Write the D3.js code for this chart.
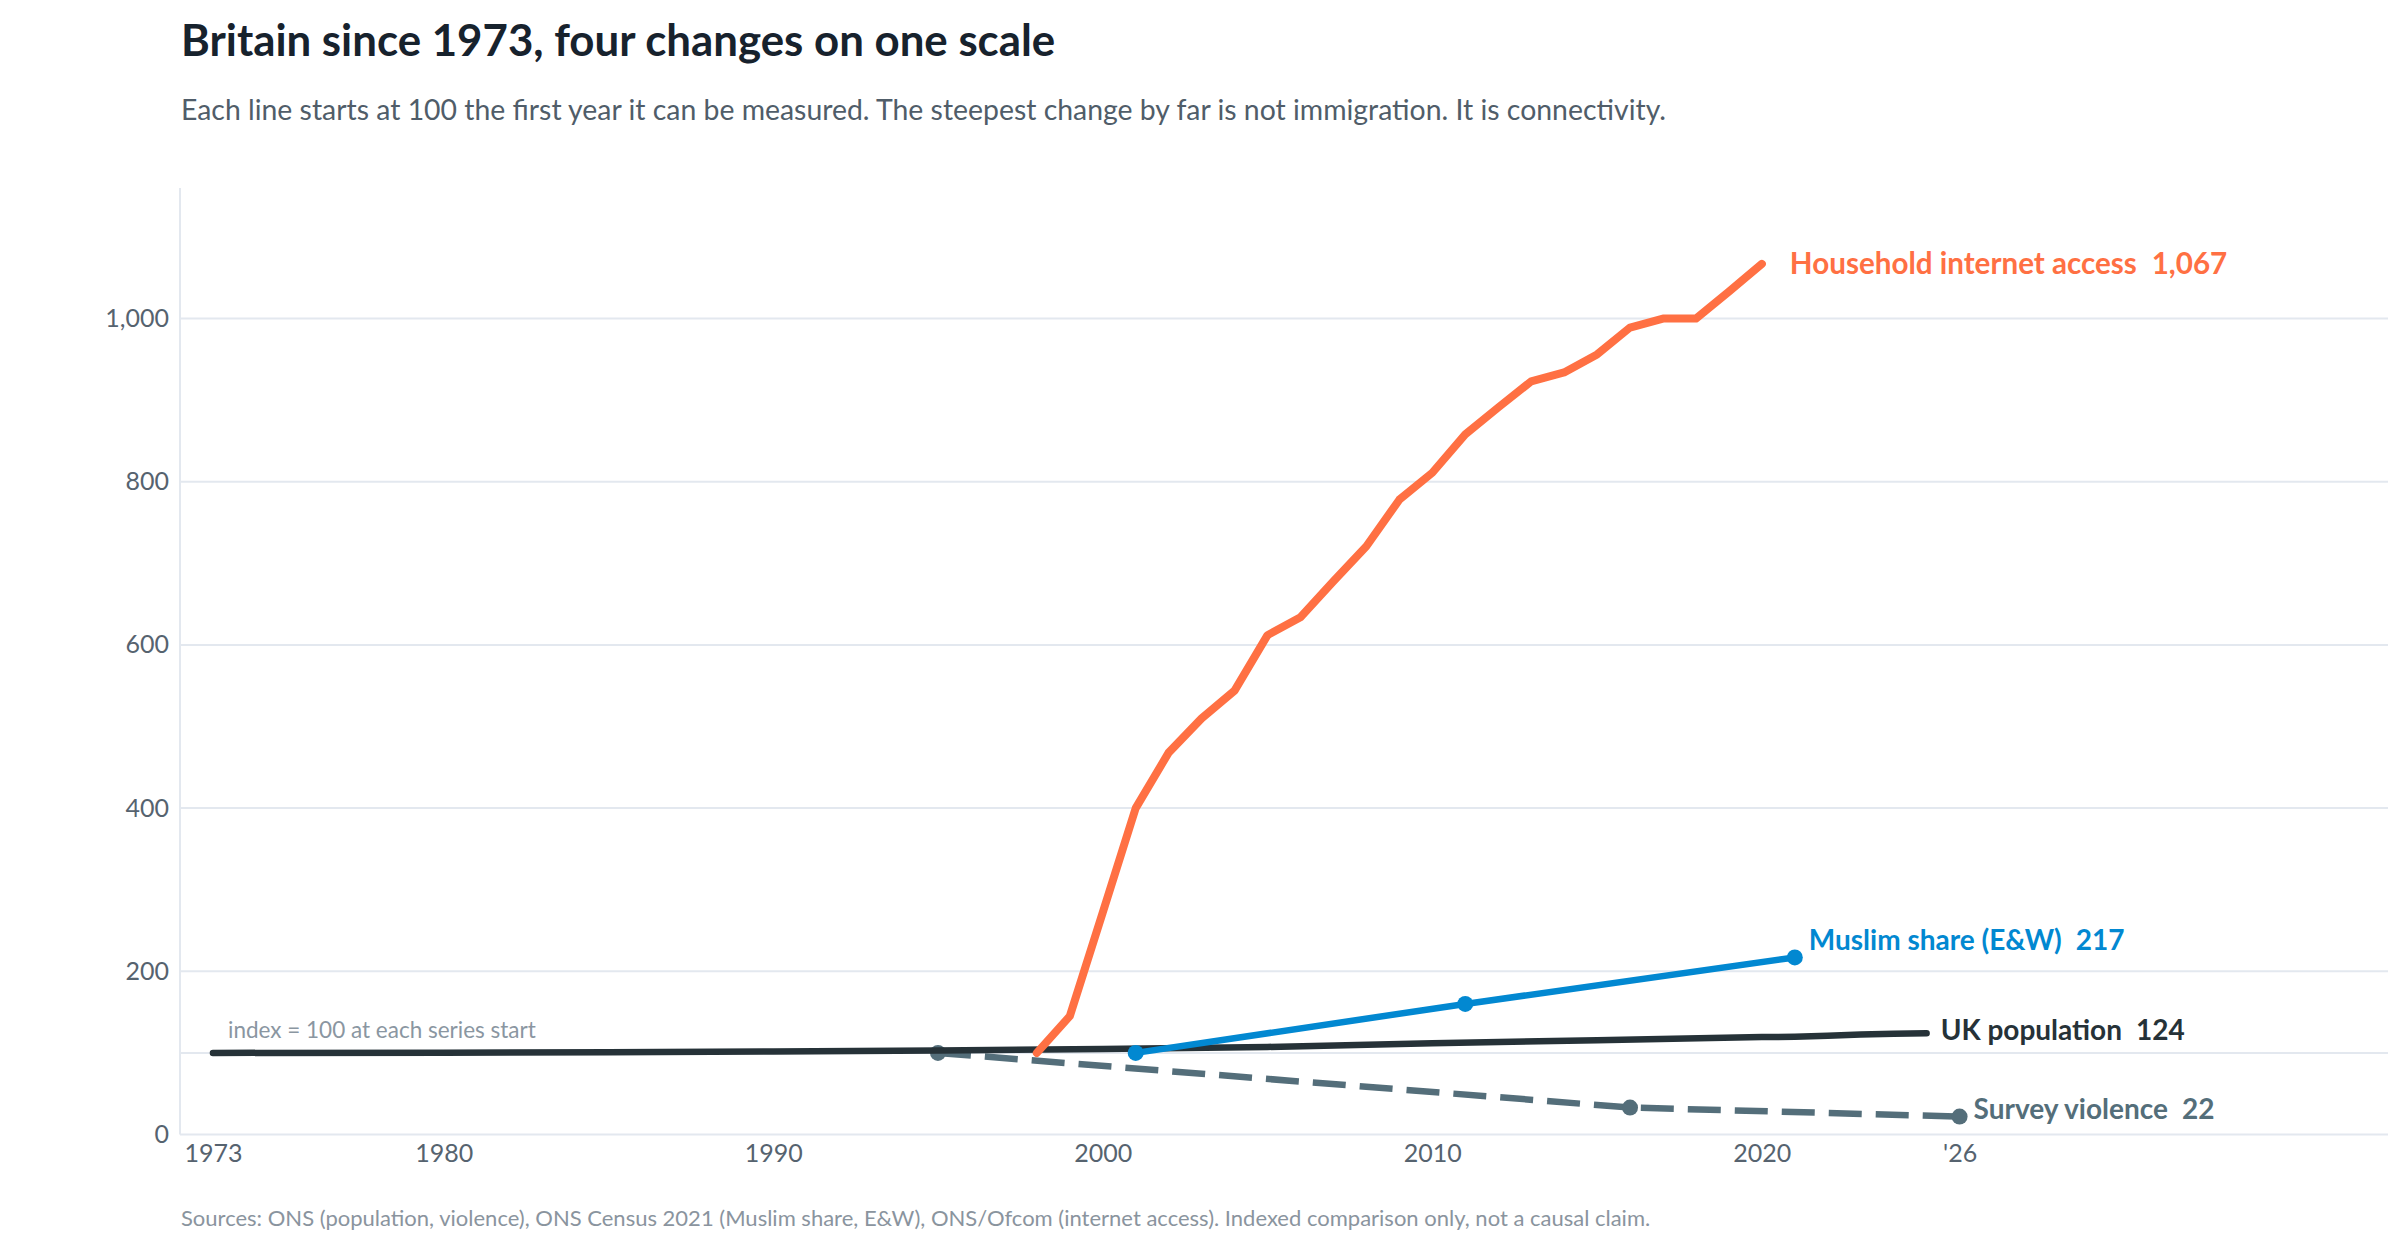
<!DOCTYPE html>
<html>
<head>
<meta charset="utf-8">
<script src="https://cdn.jsdelivr.net/npm/d3@7"></script>
<style>
  html, body { margin: 0; padding: 0; background: #ffffff; }
  svg { display: block; font-family: Lato, "Noto Sans", sans-serif; }
</style>
</head>
<body>
<svg id="chart" width="2400" height="1260"></svg>
<script>
// ---------- data ----------
const titleText = "Britain since 1973, four changes on one scale";
const subtitleText = "Each line starts at 100 the first year it can be measured. The steepest change by far is not immigration. It is connectivity.";
const sourceText = "Sources: ONS (population, violence), ONS Census 2021 (Muslim share, E&W), ONS/Ofcom (internet access). Indexed comparison only, not a causal claim.";
const noteText = "index = 100 at each series start";

const yTickValues = [0, 200, 400, 600, 800, 1000];
const xTickYears = [1973, 1980, 1990, 2000, 2010, 2020, 2026];
const xTickLabels = ["1973", "1980", "1990", "2000", "2010", "2020", "'26"];

const populationYears  = [1973, 1980, 1985, 1990, 1995, 2000, 2005, 2010, 2015, 2020, 2021, 2022, 2023, 2024, 2025];
const populationValues = [100, 100.2, 100.9, 101.8, 103, 104.8, 107.3, 111.7, 115.6, 119.4, 119.8, 121, 122.5, 123.5, 124];

const violenceYears  = [1995, 2016, 2026];
const violenceValues = [100, 33, 22];

const muslimYears  = [2001, 2011, 2021];
const muslimValues = [100, 160, 217];

const internetYears  = [1998, 1999, 2000, 2001, 2002, 2003, 2004, 2005, 2006, 2007, 2008, 2009, 2010, 2011, 2012, 2013, 2014, 2015, 2016, 2017, 2018, 2019, 2020];
const internetValues = [100, 145, 272, 400, 468, 510, 544, 612, 634, 678, 721, 778, 811, 858, 891, 923, 934, 956, 989, 1000, 1000, 1033, 1067];

const seriesNames = ["Survey violence", "UK population", "Muslim share (E&W)", "Household internet access"];

// ---------- build ----------
const series = [
  { name: seriesNames[0], years: violenceYears, values: violenceValues, color: "#546E7A", width: 6.5, dash: "33,14", cap: "butt", dots: true, labelDx: 14, labelDy: -7, fs: 28 },
  { name: seriesNames[1], years: populationYears, values: populationValues, color: "#263238", width: 6.5, dash: null, cap: "round", dots: false, labelDx: 14, labelDy: -3, fs: 28 },
  { name: seriesNames[2], years: muslimYears, values: muslimValues, color: "#0288D1", width: 6.5, dash: null, cap: "round", dots: true, labelDx: 14, labelDy: -17, fs: 28 },
  { name: seriesNames[3], years: internetYears, values: internetValues, color: "#FF7043", width: 8, dash: null, cap: "round", dots: false, labelDx: 28, labelDy: 0, fs: 29.6 }
];

const svg = d3.select("#chart");
const plotLeft = 180, plotRight = 2388, plotTop = 188, plotBottom = 1134.5;

const x = d3.scaleLinear().domain([1972, 2039]).range([plotLeft, plotRight]);
const y = d3.scaleLinear().domain([0, 1160]).range([plotBottom, plotTop]);

const gridColor = "#E3E8EF";

// title & subtitle
svg.append("text").attr("x", 181).attr("y", 56)
  .attr("font-size", 43.8).attr("font-weight", 700).attr("fill", "#17222D")
  .text(titleText);
svg.append("text").attr("x", 181).attr("y", 120)
  .attr("font-size", 28.4).attr("fill", "#505D69")
  .text(subtitleText);

// gridlines
const gridVals = yTickValues.concat([100]);
svg.append("g").selectAll("line").data(gridVals).join("line")
  .attr("x1", plotLeft).attr("x2", plotRight)
  .attr("y1", d => y(d)).attr("y2", d => y(d))
  .attr("stroke", gridColor).attr("stroke-width", 2);

// y axis line
svg.append("line").attr("x1", plotLeft).attr("x2", plotLeft)
  .attr("y1", plotTop).attr("y2", plotBottom)
  .attr("stroke", gridColor).attr("stroke-width", 2);

// y axis labels
const yAxis = svg.append("g").attr("transform", `translate(${plotLeft},0)`)
  .call(d3.axisLeft(y).tickValues(yTickValues).tickSize(0).tickPadding(11).tickFormat(d3.format(",")));
yAxis.select(".domain").remove();
yAxis.selectAll("text").attr("font-size", 25).attr("fill", "#56636F").attr("font-family", "Lato");

// x axis labels
const xAxis = svg.append("g").attr("transform", `translate(0,${plotBottom})`)
  .call(d3.axisBottom(x).tickValues(xTickYears).tickSize(0).tickPadding(10).tickFormat((d, i) => xTickLabels[i]));
xAxis.select(".domain").remove();
xAxis.selectAll("text").attr("font-size", 25).attr("fill", "#56636F").attr("font-family", "Lato");

// note
svg.append("text").attr("x", 228).attr("y", y(100) - 15)
  .attr("font-size", 22.5).attr("fill", "#8A96A1")
  .text(noteText);

// lines
const line = d3.line().x(d => x(d[0])).y(d => y(d[1]));
series.forEach(s => {
  const pts = s.years.map((yr, i) => [yr, s.values[i]]);
  const g = svg.append("g");
  const p = g.append("path").datum(pts)
    .attr("d", line)
    .attr("fill", "none")
    .attr("stroke", s.color)
    .attr("stroke-width", s.width)
    .attr("stroke-linejoin", "round")
    .attr("stroke-linecap", s.cap);
  if (s.dash) p.attr("stroke-dasharray", s.dash);
  if (s.dots) {
    g.selectAll("circle").data(pts).join("circle")
      .attr("cx", d => x(d[0])).attr("cy", d => y(d[1]))
      .attr("r", 8).attr("fill", s.color);
  }
  const last = pts[pts.length - 1];
  const t = g.append("text")
    .attr("x", x(last[0]) + s.labelDx)
    .attr("y", y(last[1]) + s.labelDy)
    .attr("dy", "0.35em")
    .attr("font-size", s.fs).attr("font-weight", 700).attr("fill", s.color);
  t.append("tspan").text(s.name);
  t.append("tspan").attr("dx", s.fs / 2).text(d3.format(",")(Math.round(last[1])));
});

// footnote
svg.append("text").attr("x", 181).attr("y", 1226)
  .attr("font-size", 22).attr("fill", "#8A949E")
  .text(sourceText);
</script>
</body>
</html>
